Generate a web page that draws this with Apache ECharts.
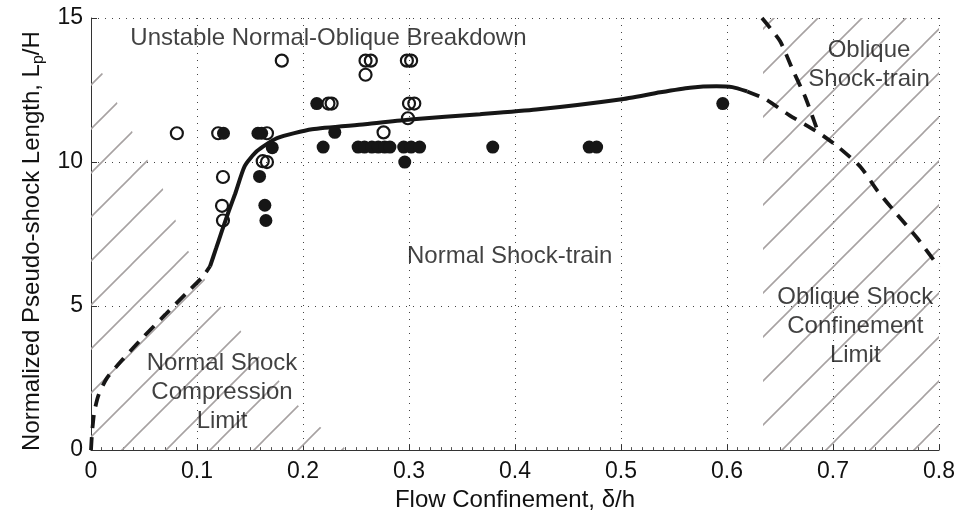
<!DOCTYPE html>
<html><head><meta charset="utf-8">
<script src="https://cdn.jsdelivr.net/npm/echarts@6/dist/echarts.min.js"></script>
<style>html,body{margin:0;padding:0;background:#fff}#c{width:959px;height:517px}</style>
</head><body><div id="c"></div>
<script>
// ---- data ----
const xTickValues = [0, 0.1, 0.2, 0.3, 0.4, 0.5, 0.6, 0.7, 0.8];
const yTickValues = [0, 5, 10, 15];

const filledPts = [
  [0.125,11.0],[0.1575,11.0],[0.161,11.0],[0.171,10.5],[0.159,9.5],[0.164,8.5],[0.165,7.97],
  [0.213,12.03],[0.230,11.03],[0.219,10.52],[0.252,10.52],[0.258,10.52],[0.265,10.52],
  [0.271,10.52],[0.277,10.52],[0.282,10.52],[0.295,10.52],[0.302,10.52],[0.310,10.52],
  [0.296,10.0],[0.379,10.52],[0.470,10.52],[0.477,10.52],[0.596,12.03]
];
const openPts = [
  [0.081,11.0],[0.120,11.0],[0.166,11.0],[0.180,13.52],[0.162,10.03],[0.166,10.0],
  [0.1245,9.48],[0.1236,8.48],[0.1245,7.97],[0.224,12.03],[0.227,12.03],
  [0.259,13.52],[0.264,13.52],[0.259,13.03],[0.276,11.03],[0.299,11.52],
  [0.300,12.03],[0.305,12.03],[0.298,13.52],[0.302,13.52]
];
const solidCurve = [
  [0.1123,6.38],[0.118,7.0],[0.1236,7.62],[0.13,8.3],[0.136,8.9],[0.145,9.86],
  [0.1566,10.38],[0.1755,10.83],[0.2085,11.14],[0.2585,11.31],[0.301,11.48],
  [0.367,11.66],[0.42,11.82],[0.499,12.17],[0.537,12.42],[0.565,12.58],[0.59,12.63],[0.605,12.6],[0.619,12.45]
];
const dashLeft = [
  [0,0],[0.001,0.6],[0.003,1.3],[0.007,1.9],[0.015,2.5],[0.03,3.15],[0.05,3.95],
  [0.07,4.7],[0.09,5.45],[0.105,6.0],[0.1123,6.38]
];
const dashUpper = [[0.633,15],[0.65,14.2],[0.662,13.2],[0.674,12.24],[0.686,11.03]];
const dashRight = [
  [0.619,12.45],[0.637,12.17],[0.659,11.62],[0.686,11.03],[0.705,10.52],[0.726,9.83],
  [0.742,9.0],[0.76,8.2],[0.779,7.38],[0.8,6.35]
];
const leftHatchEdge = [
  [0,13.8],[0.0104,13.1],[0.0245,12.07],[0.0387,11.07],[0.0528,10.1],[0.067,9.14],
  [0.0792,8.03],[0.0915,6.93],[0.1057,6.03],[0.1217,5.0],[0.1406,4.17],[0.1575,3.28],
  [0.1764,2.45],[0.1953,1.55],[0.2142,0.86],[0.2377,0.17],[0.24,0]
];
const rightHatchEdge = [[0.634,15],[0.8,15]];
const annotations = [
  [0.224,14.3,'Unstable Normal-Oblique Breakdown'],
  [0.395,6.72,'Normal Shock-train'],
  [0.1236,2.0,'Normal Shock\nCompression\nLimit'],
  [0.734,13.38,'Oblique\nShock-train'],
  [0.721,4.31,'Oblique Shock\nConfinement\nLimit']
];

// ---- styles ----
const FONT = "'Liberation Sans', Arial, Helvetica, sans-serif";
const FS = 24;
const FST = 23;
const TXT = '#111';
const INK = '#161616';

function hatchPattern() {
  const T = 44;
  const c = document.createElement('canvas');
  c.width = T; c.height = T;
  const g = c.getContext('2d');
  g.strokeStyle = '#a7a2a2';
  g.lineWidth = 1.6;
  [0, T, 2*T].forEach(k => {
    g.beginPath();
    g.moveTo(k + 2, -2);
    g.lineTo(k - T - 2, T + 2);
    g.stroke();
  });
  return {image: c, repeat: 'repeat'};
}
const pat = hatchPattern();

const chart = echarts.init(document.getElementById('c'), null, {renderer: 'canvas'});
const dashed = {color: INK, width: 3.8, type: [13, 9]};

chart.setOption({
  animation: false,
  backgroundColor: '#fff',
  grid: {left: 91, right: 20, top: 18, bottom: 64, containLabel: false},
  xAxis: {
    type: 'value', min: 0, max: 0.8, interval: 0.1,
    name: 'Flow Confinement, \u03b4/h', nameLocation: 'middle', nameGap: 32,
    nameTextStyle: {fontFamily: FONT, fontSize: FS, color: TXT},
    axisLine: {show: true, onZero: false, lineStyle: {color: '#333', width: 1}},
    axisTick: {show: true, inside: true, length: 6, lineStyle: {color: '#333'}},
    minorTick: {show: true, splitNumber: 10, length: 3, lineStyle: {color: '#555'}},
    axisLabel: {fontFamily: FONT, fontSize: FST, color: TXT, margin: 10,
      formatter: v => (Math.abs(v) < 1e-9 ? '0' : (+v.toFixed(1)).toString())},
    splitLine: {show: true, lineStyle: {color: '#444', width: 1, type: [1, 6]}}
  },
  yAxis: {
    type: 'value', min: 0, max: 15, interval: 5,
    name: 'Normalized Pseudo-shock Length, L{s|p}/H', nameLocation: 'middle', nameGap: 42,
    nameTextStyle: {fontFamily: FONT, fontSize: FS, color: TXT, padding: [0, 14, 0, 0],
      rich: {s: {fontFamily: FONT, fontSize: 16, color: TXT, padding: [12, 0, 0, 0]}}},
    axisLine: {show: true, onZero: false, lineStyle: {color: '#333', width: 1}},
    axisTick: {show: true, inside: true, length: 6, lineStyle: {color: '#333'}},
    axisLabel: {fontFamily: FONT, fontSize: FST, color: TXT, margin: 8},
    splitLine: {show: true, lineStyle: {color: '#444', width: 1, type: [1, 6]}}
  },
  series: [
    {type: 'line', data: leftHatchEdge, symbol: 'none', silent: true, z: 1,
      lineStyle: {width: 0, opacity: 0}, areaStyle: {color: pat, opacity: 1, origin: 'start'}},
    {type: 'line', data: rightHatchEdge, symbol: 'none', silent: true, z: 1,
      lineStyle: {width: 0, opacity: 0}, areaStyle: {color: pat, opacity: 1, origin: 'start'}},
    {type: 'line', data: solidCurve, symbol: 'none', smooth: 0.2, z: 3,
      lineStyle: {color: INK, width: 4}},
    {type: 'line', data: dashLeft, symbol: 'none', smooth: 0.2, z: 3, lineStyle: dashed},
    {type: 'line', data: dashUpper, symbol: 'none', smooth: 0.2, z: 3, lineStyle: dashed},
    {type: 'line', data: dashRight, symbol: 'none', smooth: 0.2, z: 3, lineStyle: dashed},
    {type: 'scatter', data: openPts, symbol: 'circle', symbolSize: 12, z: 4,
      itemStyle: {color: 'rgba(255,255,255,0)', borderColor: INK, borderWidth: 2.2, opacity: 1}},
    {type: 'scatter', data: filledPts, symbol: 'circle', symbolSize: 13, z: 5,
      itemStyle: {color: INK, opacity: 1}},
    {type: 'scatter', data: annotations, symbolSize: 0, silent: true, z: 6,
      label: {show: true, position: 'inside', formatter: p => p.data[2],
        fontFamily: FONT, fontSize: FS, color: TXT, lineHeight: 29, align: 'center'}}
  ]
});
</script>
</body></html>
